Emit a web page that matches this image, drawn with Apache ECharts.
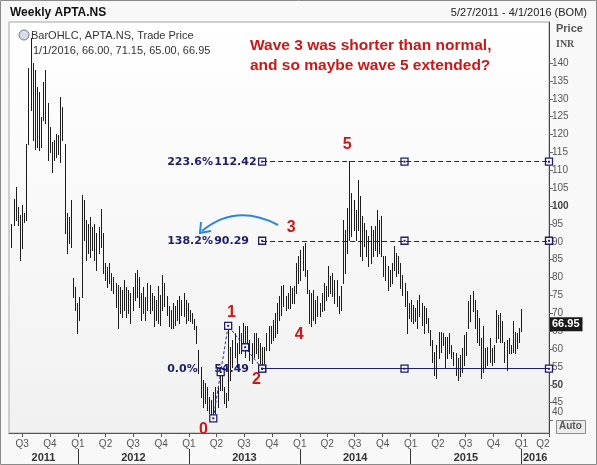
<!DOCTYPE html>
<html>
<head>
<meta charset="utf-8">
<title>Weekly APTA.NS</title>
<script src="https://cdn.jsdelivr.net/npm/echarts@6.0.0/dist/echarts.min.js"></script>
<style>
  html, body { margin: 0; padding: 0; background: #f8f8f8; }
  #chart { width: 597px; height: 465px; }
</style>
</head>
<body>
<div id="chart"></div>
<script>
// weekly bars, first bar dated 5/27/2011, one bar per week
var firstWeek = '2011-05-27';

var opens = [
  90.0, 95.0, 101.0, 97.5, 96.0, 90.0, 97.0, 96.5, 118.0, 135.0,
  130.0, 122.0, 130.0, 120.0, 122.0, 124.0, 132.0, 126.0, 116.0, 117.0,
  114.0, 117.0, 116.0, 118.0, 126.0, 117.5, 95.0, 92.0, 95.0, 79.0,
  76.0, 72.0, 69.0, 75.0, 98.0, 93.0, 90.0, 91.0, 90.0, 91.0,
  88.0, 90.0, 92.0, 90.0, 82.0, 81.0, 80.0, 79.0, 78.0, 77.0,
  74.0, 73.0, 72.0, 74.0, 73.0, 74.0, 71.0, 74.0, 76.0, 79.0,
  76.0, 73.0, 72.0, 71.0, 73.0, 75.0, 72.0, 73.0, 69.0, 72.0,
  73.0, 74.0, 77.0, 73.0, 70.0, 68.0, 69.0, 71.0, 70.0, 72.0,
  70.0, 72.0, 73.0, 70.0, 71.0, 69.0, 68.0, 66.0, 59.0, 54.0,
  48.0, 46.0, 48.0, 44.0, 45.0, 43.0, 46.0, 45.0, 48.6, 52.0,
  49.5, 46.0, 45.8, 60.0, 56.0, 60.0, 59.0, 60.0, 63.0, 61.0,
  64.0, 62.0, 60.0, 59.0, 60.0, 62.0, 60.0, 59.0, 57.0, 58.0,
  59.8, 63.0, 62.0, 65.0, 66.0, 68.0, 71.0, 72.0, 74.0, 73.0,
  72.0, 74.0, 75.0, 74.0, 76.0, 82.0, 84.0, 85.0, 86.0, 82.0,
  76.0, 70.0, 72.0, 70.0, 71.0, 72.0, 71.0, 74.0, 76.0, 75.0,
  80.0, 77.0, 79.0, 75.0, 73.0, 72.0, 78.4, 90.0, 88.0, 96.0,
  98.0, 97.0, 95.0, 96.0, 98.0, 88.0, 92.0, 90.0, 88.0, 90.0,
  89.0, 91.0, 90.0, 94.0, 90.0, 85.9, 82.0, 81.0, 78.0, 80.0,
  83.0, 85.0, 83.0, 82.0, 78.0, 77.0, 73.0, 70.0, 71.0, 70.0,
  69.0, 70.0, 72.0, 70.0, 68.0, 70.0, 68.0, 65.0, 62.0, 58.0,
  55.0, 59.0, 62.0, 61.2, 63.0, 58.0, 61.0, 60.0, 58.0, 57.0,
  54.0, 55.0, 57.0, 59.0, 63.0, 65.9, 71.0, 73.0, 72.0, 67.0,
  65.0, 63.0, 56.0, 58.0, 57.0, 59.0, 58.0, 57.0, 62.1, 68.0,
  66.0, 65.0, 62.0, 58.0, 60.0, 60.0, 60.0, 63.0, 62.0, 63.0,
  66.0
];
var highs = [
  95.1, 102.1, 105.4, 99.8, 97.5, 100.3, 98.0, 117.5, 138.5, 146.9,
  139.9, 138.0, 133.4, 132.0, 125.0, 134.8, 138.0, 128.7, 122.2, 118.0,
  118.4, 120.3, 119.8, 130.6, 127.8, 117.5, 98.0, 97.0, 101.7, 80.0,
  77.4, 72.8, 74.6, 103.1, 101.7, 96.1, 95.1, 97.0, 94.2, 95.1,
  92.4, 94.2, 99.3, 92.4, 84.0, 83.0, 84.0, 81.2, 80.2, 78.4,
  77.9, 77.4, 76.5, 79.3, 77.4, 76.5, 75.6, 77.4, 81.2, 82.1,
  80.2, 75.6, 77.4, 74.6, 78.4, 77.9, 75.6, 74.7, 73.7, 77.5,
  75.1, 80.7, 78.4, 74.7, 71.9, 70.9, 72.8, 71.9, 73.7, 74.7,
  73.7, 75.6, 73.7, 72.8, 70.9, 70.0, 68.5, 66.3, 59.8, 55.1,
  51.4, 50.4, 49.5, 46.7, 45.8, 48.0, 49.5, 49.5, 55.1, 53.2,
  49.5, 47.6, 66.5, 60.7, 62.6, 64.4, 61.6, 66.3, 64.4, 67.2,
  66.3, 66.3, 62.6, 61.6, 64.4, 64.4, 63.0, 61.6, 60.5, 60.7,
  64.4, 66.3, 66.3, 68.1, 70.0, 72.8, 74.7, 77.5, 78.0, 74.7,
  75.6, 77.5, 77.0, 77.5, 84.0, 85.9, 87.7, 88.7, 89.8, 82.2,
  76.6, 75.6, 76.6, 73.8, 74.7, 72.8, 75.6, 78.4, 77.5, 83.1,
  80.3, 81.2, 79.4, 79.4, 74.7, 77.5, 96.1, 93.3, 99.4, 112.6,
  103.6, 101.7, 98.9, 107.3, 102.7, 97.1, 95.2, 93.3, 91.5, 94.3,
  93.3, 94.3, 98.9, 96.1, 97.1, 85.9, 85.9, 83.1, 82.2, 84.0,
  88.7, 86.8, 85.9, 84.0, 80.8, 78.4, 76.1, 72.9, 73.8, 72.4,
  71.5, 73.8, 75.2, 72.9, 71.9, 71.5, 68.7, 65.4, 62.6, 59.3,
  61.2, 64.9, 64.9, 64.5, 63.5, 63.5, 64.5, 61.2, 59.3, 58.9,
  57.5, 58.4, 60.3, 64.0, 64.9, 73.3, 75.2, 76.1, 73.8, 71.0,
  68.7, 63.1, 66.3, 60.3, 60.7, 63.1, 60.3, 61.2, 71.0, 69.6,
  70.1, 67.7, 62.1, 62.6, 63.1, 61.2, 67.7, 64.9, 64.5, 65.9,
  71.15
];
var lows = [
  88.6, 94.7, 96.1, 94.7, 84.9, 88.2, 95.6, 96.1, 117.5, 126.8,
  118.4, 116.1, 116.6, 115.7, 116.6, 124.0, 123.1, 112.9, 115.2, 109.6,
  112.9, 113.8, 114.7, 112.4, 118.4, 92.4, 86.8, 89.6, 88.6, 74.6,
  70.9, 64.4, 68.1, 74.6, 90.5, 84.9, 86.8, 85.8, 87.7, 84.9,
  82.1, 86.8, 88.6, 81.2, 79.3, 77.4, 78.4, 76.5, 75.6, 71.8,
  65.8, 70.0, 69.0, 70.9, 69.0, 70.0, 67.2, 70.9, 73.7, 74.6,
  71.8, 68.1, 70.0, 68.1, 70.9, 70.0, 70.9, 66.3, 68.1, 67.2,
  66.8, 70.9, 71.9, 69.5, 66.3, 65.8, 65.8, 66.8, 68.1, 67.2,
  69.5, 69.1, 67.2, 68.1, 67.7, 67.2, 65.5, 61.6, 53.2, 46.7,
  43.9, 44.9, 43.0, 42.1, 41.5, 40.6, 42.1, 43.9, 48.6, 48.6,
  44.9, 43.9, 45.8, 51.4, 55.1, 57.9, 55.1, 58.8, 58.8, 60.7,
  57.9, 59.8, 57.0, 56.0, 57.9, 58.8, 57.5, 56.0, 54.49, 56.0,
  59.8, 59.8, 61.6, 62.6, 63.5, 64.4, 68.1, 69.6, 71.9, 71.0,
  71.4, 71.4, 72.8, 72.8, 75.6, 78.4, 79.4, 82.2, 80.3, 75.6,
  67.2, 66.3, 68.2, 67.2, 69.1, 69.1, 70.5, 71.0, 73.8, 74.7,
  75.6, 74.7, 72.8, 71.9, 70.0, 71.0, 78.4, 81.2, 86.8, 90.5,
  91.5, 93.3, 90.5, 93.3, 85.9, 85.0, 88.7, 85.9, 83.1, 84.0,
  85.9, 87.7, 85.9, 86.8, 85.9, 80.3, 79.4, 76.6, 77.5, 78.4,
  82.2, 80.3, 81.2, 77.0, 75.2, 71.9, 64.5, 68.7, 67.7, 67.3,
  67.7, 65.9, 69.1, 66.8, 64.5, 67.3, 64.9, 61.2, 56.5, 52.8,
  51.9, 57.5, 59.3, 61.2, 54.7, 57.5, 58.9, 57.5, 55.6, 52.8,
  51.4, 52.4, 53.7, 55.6, 58.4, 65.9, 67.7, 70.5, 65.9, 62.1,
  61.2, 51.9, 53.7, 54.7, 55.6, 56.5, 55.6, 56.5, 62.1, 63.1,
  62.1, 62.1, 56.5, 54.2, 58.9, 58.9, 59.3, 58.9, 60.3, 62.1,
  65.0
];
var closes = [
  94.0, 101.0, 97.5, 96.0, 90.0, 97.0, 96.5, 116.0, 135.0, 130.0,
  122.0, 130.0, 120.0, 122.0, 124.0, 132.0, 126.0, 116.0, 117.0, 114.0,
  117.0, 116.0, 118.0, 126.0, 119.0, 95.0, 92.0, 95.0, 89.0, 76.0,
  72.0, 69.0, 73.0, 98.0, 93.0, 90.0, 91.0, 90.0, 91.0, 88.0,
  90.0, 92.0, 90.0, 82.0, 81.0, 80.0, 79.0, 78.0, 77.0, 74.0,
  73.0, 72.0, 74.0, 73.0, 74.0, 71.0, 74.0, 76.0, 79.0, 76.0,
  73.0, 72.0, 71.0, 73.0, 75.0, 72.0, 73.0, 69.0, 72.0, 73.0,
  74.0, 77.0, 73.0, 70.0, 68.0, 69.0, 71.0, 70.0, 72.0, 70.0,
  72.0, 73.0, 70.0, 71.0, 69.0, 68.0, 66.0, 62.0, 54.0, 48.0,
  46.0, 48.0, 44.0, 45.0, 43.0, 46.0, 45.0, 48.0, 52.0, 50.0,
  46.0, 45.5, 62.0, 56.0, 60.0, 59.0, 60.0, 63.0, 61.0, 64.0,
  62.0, 60.0, 59.0, 60.0, 62.0, 60.0, 59.0, 57.0, 58.0, 59.0,
  63.0, 62.0, 65.0, 66.0, 68.0, 71.0, 72.0, 74.0, 73.0, 72.0,
  74.0, 75.0, 74.0, 76.0, 82.0, 84.0, 85.0, 86.0, 82.0, 76.0,
  70.0, 72.0, 70.0, 71.0, 72.0, 71.0, 74.0, 76.0, 75.0, 80.0,
  77.0, 79.0, 75.0, 73.0, 72.0, 77.0, 90.0, 88.0, 96.0, 98.0,
  97.0, 95.0, 96.0, 98.0, 88.0, 92.0, 90.0, 88.0, 90.0, 89.0,
  91.0, 90.0, 94.0, 90.0, 86.0, 82.0, 81.0, 78.0, 80.0, 83.0,
  85.0, 83.0, 82.0, 78.0, 77.0, 73.0, 70.0, 71.0, 70.0, 69.0,
  70.0, 72.0, 70.0, 68.0, 70.0, 68.0, 65.0, 62.0, 58.0, 55.0,
  59.0, 62.0, 61.0, 63.0, 58.0, 61.0, 60.0, 58.0, 57.0, 54.0,
  55.0, 57.0, 59.0, 63.0, 64.0, 71.0, 73.0, 72.0, 67.0, 65.0,
  63.0, 56.0, 58.0, 57.0, 59.0, 58.0, 57.0, 60.0, 68.0, 66.0,
  65.0, 63.0, 58.0, 60.0, 60.0, 60.0, 63.0, 62.0, 63.0, 65.0,
  66.95
];

// axis text
var quarterStarts = ['2011-07-01', '2011-10-01', '2012-01-01', '2012-04-01', '2012-07-01', '2012-10-01',
  '2013-01-01', '2013-04-01', '2013-07-01', '2013-10-01', '2014-01-01', '2014-04-01', '2014-07-01',
  '2014-10-01', '2015-01-01', '2015-04-01', '2015-07-01', '2015-10-01', '2016-01-01', '2016-04-01'];
var quarterLabels = ['Q3', 'Q4', 'Q1', 'Q2', 'Q3', 'Q4', 'Q1', 'Q2', 'Q3', 'Q4', 'Q1', 'Q2', 'Q3',
  'Q4', 'Q1', 'Q2', 'Q3', 'Q4', 'Q1', 'Q2'];
var yearStarts = ['2012-01-01', '2013-01-01', '2014-01-01', '2015-01-01', '2016-01-01'];
var yearLabels = ['2011', '2012', '2013', '2014', '2015', '2016'];
var priceTicks = [40, 45, 50, 55, 60, 65, 70, 75, 80, 85, 90, 95, 100, 105, 110, 115, 120, 125, 130, 135, 140];
var boldTicks = [50, 100];

// Elliott wave pivots (bar index, which end of the bar)
var wavePivots = [[95, 'low'], [102, 'high'], [118, 'low']];
var fibPct = ['223.6%', '138.2%', '0.0%'];
var fibValues = [112.42, 90.29, 54.49];
var fibDashed = [true, true, false];
var fibMidDate = '2014-12-12';
var waveText = ['0', '1', '2', '3', '4', '5'];
var waveTextDate = ['2013-02-18', '2013-05-21', '2013-08-11', '2013-12-04', '2013-12-30', '2014-06-06'];
var waveTextPrice = [37.4, 70.1, 51.4, 93.9, 63.9, 117.1];

var DAY = 86400000;
function utc(s) { var p = s.split('-'); return Date.UTC(+p[0], +p[1] - 1, +p[2]); }
var t0 = utc(firstWeek);
function barDate(i) { return t0 + i * 7 * DAY; }
var axisMin = utc('2011-05-19');
var axisMax = utc('2016-04-01');

var bars = opens.map(function (o, i) { return [barDate(i), o, highs[i], lows[i], closes[i]]; });

var pivots = wavePivots.map(function (p) {
  return [barDate(p[0]), p[1] === 'low' ? lows[p[0]] : highs[p[0]]];
});
function mid(a, b) { return [(a[0] + b[0]) / 2, (a[1] + b[1]) / 2]; }
var handles = [pivots[0], mid(pivots[0], pivots[1]), pivots[1], mid(pivots[1], pivots[2]), pivots[2]];
var fibStart = pivots[2][0];
fibValues.forEach(function (v) {
  handles.push([fibStart, v], [utc(fibMidDate), v], [axisMax, v]);
});

var yearMids = [];
var bounds = [axisMin].concat(yearStarts.map(utc)).concat([axisMax]);
for (var k = 0; k < bounds.length - 1; k++) yearMids.push((bounds[k] + bounds[k + 1]) / 2);

var qTicks = quarterStarts.map(utc);

var navy = '#1d1d6b';
var red = '#c81818';

function fmt2(v) { return v.toFixed(2); }
var last = bars.length - 1;
var lastD = new Date(barDate(last));
var ohlcLine = (lastD.getUTCMonth() + 1) + '/' + lastD.getUTCDate() + '/' + lastD.getUTCFullYear() + ', ' +
  fmt2(opens[last]) + ', ' + fmt2(highs[last]) + ', ' + fmt2(lows[last]) + ', ' + fmt2(closes[last]);

// OHLC bar: the ticks are too small to see at this width, so only the high-low stroke is drawn
function renderBar(params, api) {
  var x = api.value(0);
  var pH = api.coord([x, api.value(2)]);
  var pL = api.coord([x, api.value(3)]);
  var col = Math.round(pH[0]);
  return {
    type: 'line',
    shape: { x1: col + 0.5, y1: Math.round(pH[1]), x2: col + 0.5, y2: Math.round(pL[1]) + 1 },
    style: { stroke: '#1c1c1c', lineWidth: 1 }
  };
}

var fibLines = fibValues.map(function (v, i) {
  return [
    {
      coord: [fibStart, v],
      lineStyle: { color: navy, width: 1, type: fibDashed[i] ? [5, 3] : 'solid' },
      label: {
        show: true, position: 'start', distance: 5,
        formatter: '{p|' + fibPct[i] + '}{v|' + fmt2(v) + '}',
        rich: {
          p: { width: 47, align: 'left', fontFamily: 'DejaVu Sans', fontWeight: 'bold', fontSize: 11, color: navy },
          v: { width: 43, align: 'left', fontFamily: 'DejaVu Sans', fontWeight: 'bold', fontSize: 11, color: navy }
        }
      }
    },
    { coord: [axisMax, v] }
  ];
});

var chart = echarts.init(document.getElementById('chart'));
chart.setOption({
  animation: false,
  backgroundColor: '#f8f8f8',
  grid: {
    left: 9, top: 22, right: 48, bottom: 32,
    show: true,
    backgroundColor: new echarts.graphic.LinearGradient(0, 0, 0, 1, [
      { offset: 0, color: '#ffffff' }, { offset: 1, color: '#f1f1f1' }
    ]),
    borderColor: '#a6a6a6', borderWidth: 1
  },
  xAxis: [{
    type: 'value', min: axisMin, max: axisMax,
    axisLine: { lineStyle: { color: '#555' } },
    axisTick: { customValues: qTicks, length: 4, lineStyle: { color: '#555' } },
    axisLabel: {
      customValues: qTicks,
      formatter: function (v) {
        var i = qTicks.indexOf(v);
        return i === qTicks.length - 1 ? '{e|' + quarterLabels[i] + '}' : (quarterLabels[i] || '');
      },
      rich: { e: { fontSize: 10, fontFamily: 'Liberation Sans', color: '#555', padding: [0, 12, 0, 0] } },
      color: '#555', fontSize: 10, fontFamily: 'Liberation Sans', margin: 6, hideOverlap: false
    },
    splitLine: { show: false }
  }, {
    type: 'value', min: axisMin, max: axisMax, position: 'bottom', offset: 16,
    axisLine: { show: false },
    axisTick: { show: true, customValues: yearStarts.map(utc), length: 16, lineStyle: { color: '#333' } },
    axisLabel: {
      customValues: yearMids,
      formatter: function (v) { return yearLabels[yearMids.indexOf(v)] || ''; },
      color: '#333', fontSize: 11, fontWeight: 'bold', fontFamily: 'Liberation Sans', margin: 3, hideOverlap: false
    },
    splitLine: { show: false }
  }],
  yAxis: {
    type: 'value', position: 'right', min: 36.5, max: 151.5,
    axisLine: { show: true, lineStyle: { color: '#444' } },
    axisTick: { show: true, customValues: priceTicks, length: 4, lineStyle: { color: '#666' } },
    axisLabel: {
      customValues: priceTicks, color: '#555', fontSize: 10, fontFamily: 'Liberation Sans', margin: 3,
      formatter: function (v) {
        if (v === priceTicks[0]) return '{u|' + v + '}';
        return boldTicks.indexOf(v) >= 0 ? '{b|' + v + '}' : String(v);
      },
      rich: {
        b: { fontWeight: 'bold', fontSize: 10, fontFamily: 'Liberation Sans', color: '#444' },
        u: { fontSize: 10, fontFamily: 'Liberation Sans', color: '#555', padding: [0, 0, 16, 0] }
      }
    },
    splitLine: { show: false }
  },
  series: [{
    name: 'APTA.NS',
    type: 'custom',
    renderItem: renderBar,
    encode: { x: 0, y: [2, 3] },
    clip: true,
    data: bars
  }, {
    name: 'waves',
    type: 'line',
    data: pivots,
    symbol: 'none',
    lineStyle: { color: '#2f2f86', width: 1, type: [3, 2] },
    z: 3,
    markLine: {
      silent: true, symbol: 'none', animation: false,
      lineStyle: { color: 'rgba(0,0,0,0)', width: 1, type: 'solid' },
      data: [{
        yAxis: closes[last],
        label: {
          show: true, position: 'end', distance: 1, formatter: fmt2(closes[last]),
          backgroundColor: '#1a1a1a', color: '#ffffff', fontWeight: 'bold', fontSize: 11,
          fontFamily: 'Liberation Sans', padding: [2, 3, 1, 2], opacity: 1
        }
      }]
    }
  }, {
    name: 'handles',
    type: 'scatter',
    data: handles,
    symbol: 'rect', symbolSize: 7,
    itemStyle: { color: '#ffffff', borderColor: navy, borderWidth: 1.3, opacity: 1 },
    z: 4,
    markLine: { silent: true, symbol: 'none', animation: false, data: fibLines }
  }, {
    name: 'handleDots',
    type: 'scatter',
    data: handles,
    symbol: 'rect', symbolSize: 2,
    itemStyle: { color: navy, opacity: 1 },
    z: 5
  }, {
    name: 'waveLabels',
    type: 'scatter',
    data: waveText.map(function (s, i) { return [utc(waveTextDate[i]), waveTextPrice[i], s]; }),
    symbolSize: 0,
    itemStyle: { opacity: 1 },
    label: {
      show: true, position: 'inside', formatter: function (p) { return p.data[2]; },
      color: red, fontSize: 16, fontWeight: 'bold', fontFamily: 'Liberation Sans', opacity: 1
    },
    z: 6
  }],
  graphic: [
    { type: 'rect', shape: { x: 0.5, y: 0.5, width: 596, height: 464 }, style: { fill: null, stroke: '#8a8a8a' }, z: 100 },
    { type: 'text', left: 10, top: 7, style: { text: 'Weekly APTA.NS', font: 'bold 12px "Liberation Sans"', fill: '#111' } },
    { type: 'text', right: 10, top: 7, style: { text: '5/27/2011 - 4/1/2016 (BOM)', font: '11px "Liberation Sans"', fill: '#222' } },
    { type: 'text', left: 556, top: 23, style: { text: 'Price', font: 'bold 11px "Liberation Sans"', fill: '#555' } },
    { type: 'text', left: 556, top: 39, style: { text: 'INR', font: 'bold 10px "Liberation Serif"', fill: '#555' } },
    { type: 'circle', shape: { cx: 24, cy: 35, r: 5 }, style: { fill: '#d8dde6', stroke: '#6b7a90', lineWidth: 1 }, z: 10 },
    { type: 'text', left: 31, top: 30, style: { text: 'BarOHLC, APTA.NS, Trade Price', font: '11px "Liberation Sans"', fill: '#333' }, z: 10 },
    { type: 'text', left: 33, top: 45, style: { text: ohlcLine, font: '11px "Liberation Sans"', fill: '#333' }, z: 10 },
    { type: 'text', left: 250, top: 38, style: { text: 'Wave 3 was shorter than normal,', font: 'bold 15.5px "Liberation Sans"', fill: red }, z: 10 },
    { type: 'text', left: 250, top: 58, style: { text: 'and so maybe wave 5 extended?', font: 'bold 15.5px "Liberation Sans"', fill: red }, z: 10 },
    { type: 'bezierCurve', shape: { x1: 278, y1: 225, cpx1: 236, cpy1: 203, x2: 202, y2: 231 }, style: { stroke: '#2f86d6', lineWidth: 2, fill: null }, z: 10 },
    { type: 'polyline', shape: { points: [[201, 222], [200, 233], [211, 231]] }, style: { stroke: '#2f86d6', lineWidth: 2, fill: null }, z: 10 },
    { type: 'rect', shape: { x: 556.5, y: 420.5, width: 29, height: 13 }, style: { fill: '#ececec', stroke: '#8c8c8c' }, z: 10 },
    { type: 'text', left: 559, top: 421, style: { text: 'Auto', font: 'bold 10px "Liberation Sans"', fill: '#555' }, z: 11 }
  ]
});
</script>
</body>
</html>
